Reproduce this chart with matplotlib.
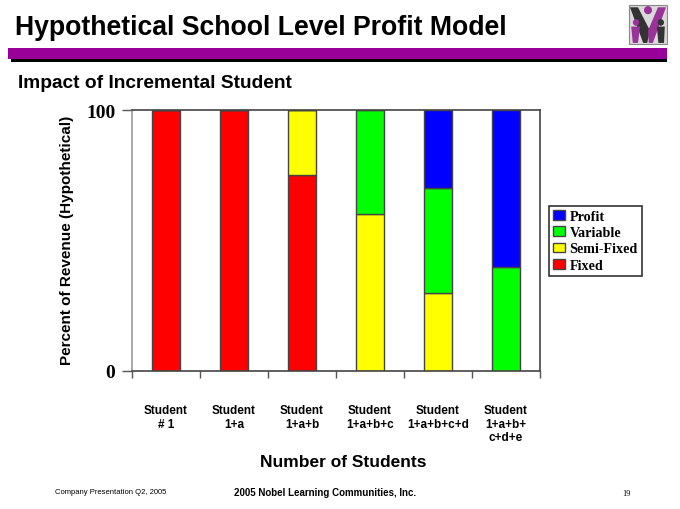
import matplotlib
matplotlib.use("Agg")
import matplotlib.pyplot as plt
from matplotlib.patches import Rectangle, Polygon, Circle
import numpy as np

categories = ["Student\n# 1", "Student\n1+a", "Student\n1+a+b", "Student\n1+a+b+c",
              "Student\n1+a+b+c+d", "Student\n1+a+b+\nc+d+e"]
fixed = [100, 100, 75, 0, 0, 0]
semi_fixed = [0, 0, 25, 60, 30, 0]
variable = [0, 0, 0, 40, 40, 40]
profit = [0, 0, 0, 0, 30, 60]
series_names = ["Fixed", "Semi-Fixed", "Variable", "Profit"]
series_colors = ["#FF0000", "#FFFF00", "#00FF00", "#0000FF"]

W, H = 680, 510
fig = plt.figure(figsize=(6.8, 5.1), dpi=100)
fig.patch.set_facecolor("white")

def fx(x): return x / W
def fy(y): return 1 - y / H

sans = ["Liberation Sans", "DejaVu Sans"]
serif = ["Liberation Serif", "DejaVu Serif"]

# Title and band
fig.text(fx(15), fy(28), "Hypothetical School Level Profit Model", family=sans,
         weight="bold", fontsize=19.2, va="center", ha="left")
fig.patches.append(Rectangle((fx(11), fy(63)), fx(667 - 11), 13 / H, transform=fig.transFigure,
                             facecolor="black", edgecolor="none"))
fig.patches.append(Rectangle((fx(8), fy(60)), fx(667 - 8), 11 / H, transform=fig.transFigure,
                             facecolor="#990099", edgecolor="none"))
fig.text(fx(18), fy(84), "Impact of Incremental Student", family=sans,
         weight="bold", fontsize=13.8, va="center", ha="left")

# Logo
lax = fig.add_axes([fx(628), fy(46), 40 / W, 41 / H])
lax.set_xlim(0, 1); lax.set_ylim(0, 1); lax.axis("off")
lax.add_patch(Rectangle((0.02, 0.02), 0.96, 0.96, facecolor="#D9D9D9", edgecolor="#888888", lw=0.8))
lax.add_patch(Polygon([[0.05, 0.92], [0.25, 0.92], [0.55, 0.35], [0.48, 0.05], [0.38, 0.05]],
                      facecolor="#333333", edgecolor="none"))
lax.add_patch(Polygon([[0.95, 0.92], [0.75, 0.92], [0.5, 0.35], [0.52, 0.05], [0.62, 0.05]],
                      facecolor="#993399", edgecolor="none"))
lax.add_patch(Circle((0.5, 0.85), 0.1, facecolor="#993399", edgecolor="none"))
lax.add_patch(Circle((0.2, 0.55), 0.08, facecolor="#993399", edgecolor="none"))
lax.add_patch(Circle((0.82, 0.55), 0.08, facecolor="#333333", edgecolor="none"))
lax.add_patch(Polygon([[0.08, 0.45], [0.3, 0.45], [0.25, 0.05], [0.12, 0.05]],
                      facecolor="#993399", edgecolor="none"))
lax.add_patch(Polygon([[0.72, 0.45], [0.92, 0.45], [0.9, 0.05], [0.76, 0.05]],
                      facecolor="#333333", edgecolor="none"))

# Main axes
ax = fig.add_axes([fx(132), fy(372), fx(540 - 132), (372 - 111) / H])
x = np.arange(len(categories)) + 0.5
data = [fixed, semi_fixed, variable, profit]
bottom = np.zeros(len(categories))
handles = []
for vals, name, col in zip(data, series_names, series_colors):
    vals = np.array(vals, dtype=float)
    b = ax.bar(x, vals, width=0.4, bottom=bottom, color=col, edgecolor="#444444",
               linewidth=1.0, label=name)
    handles.append(b)
    bottom += vals

ax.set_xlim(0, len(categories))
ax.set_ylim(0, 100)
ax.set_yticks([0, 100])
ax.set_yticklabels(["0", "100"], family=serif, weight="bold", fontsize=14)
ax.tick_params(axis="y", length=7, width=1, color="#555555", pad=5)
ax.set_xticks(np.arange(len(categories) + 1), minor=False)
ax.set_xticklabels([""] * (len(categories) + 1))
ax.tick_params(axis="x", which="major", length=5, width=1, color="#555555", direction="out")
ax.set_xticks(x, minor=True)
ax.set_xticklabels(categories, minor=True, family=sans, weight="bold", fontsize=8.5,
                   linespacing=1.15, va="top")
ax.tick_params(axis="x", which="minor", length=0, pad=24)
for s in ["top", "right", "bottom"]:
    ax.spines[s].set_color("#444444")
    ax.spines[s].set_linewidth(1.2)
ax.spines["left"].set_color("#999999")
ax.spines["left"].set_linewidth(1.2)

fig.text(fx(67), fy(240), "Percent of Revenue (Hypothetical)", family=sans, weight="bold",
         fontsize=11, rotation=90, ha="center", va="center")
fig.text(fx(343), fy(463), "Number of Students", family=sans, weight="bold",
         fontsize=12.5, ha="center", va="center")

leg = fig.legend(handles[::-1], series_names[::-1], loc="upper left",
                 bbox_to_anchor=(fx(549), fy(207)), bbox_transform=fig.transFigure,
                 borderaxespad=0, fancybox=False, edgecolor="#333333", framealpha=1,
                 prop={"family": serif, "weight": "bold", "size": 10.2},
                 handlelength=0.8, handleheight=0.7, handletextpad=0.35,
                 labelspacing=0.22, borderpad=0.3)
leg.get_frame().set_linewidth(1.2)

# Footer
fig.text(fx(55), fy(493), "Company Presentation Q2, 2005", family=sans, fontsize=5.5,
         ha="left", va="center")
fig.text(fx(325), fy(493), "2005 Nobel Learning Communities, Inc.", family=sans,
         weight="bold", fontsize=7, ha="center", va="center")
fig.text(fx(626), fy(494), "19", family=serif, fontsize=6, ha="center", va="center")

fig.savefig("out.png", dpi=100)
